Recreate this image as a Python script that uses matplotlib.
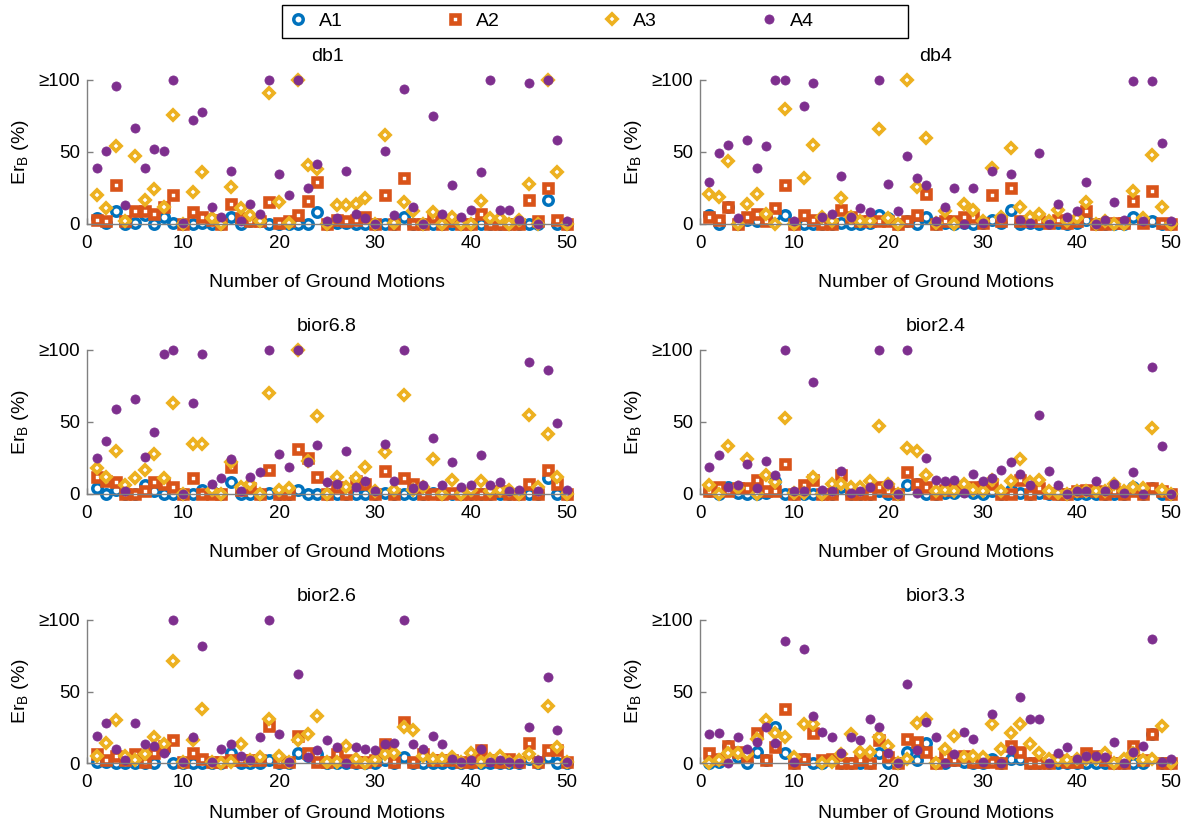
"""
Er_B scatter for six wavelet bases, four cases (A1-A4) over 50 ground motions
"""

import matplotlib

matplotlib.use("Agg")
import matplotlib.pyplot as plt
from matplotlib.lines import Line2D
from matplotlib.patches import Rectangle
import numpy as np

plt.rcParams["font.family"] = ["Liberation Sans", "DejaVu Sans"]
plt.rcParams["mathtext.fontset"] = "custom"
plt.rcParams["mathtext.rm"] = "Liberation Sans"
plt.rcParams["mathtext.it"] = "Liberation Sans:italic"

# ground motion index
motions = np.arange(1, 51)

wavelets = ["db1", "db4", "bior6.8", "bior2.4", "bior2.6", "bior3.3"]
cases = ["A1", "A2", "A3", "A4"]

# Er_B (%) per wavelet and case, values >= 100 shown at 100
db1_a1 = [4, 1, 9, 0, 1, 6, 0, 5, 1, 0, 0, 1, 0, 0, 5, 0, 2, 2, 0, 0, 0, 0, 0, 8, 0,
          1, 1, 0, 0, 0, 0, 0, 5, 0, 0, 0, 0, 0, 0, 0, 0, 0, 0, 0, 0, 0, 0, 17, 0, 0]
db1_a2 = [3, 2, 27, 2, 9, 9, 7, 12, 20, 0, 8, 5, 3, 0, 14, 4, 2, 2, 15, 1, 2, 6, 16, 29, 0,
          3, 2, 3, 5, 0, 20, 0, 32, 0, 0, 5, 0, 2, 0, 0, 7, 0, 0, 0, 0, 17, 2, 25, 3, 0]
db1_a3 = [20, 11, 54, 2, 47, 17, 24, 12, 76, 0, 22, 36, 4, 0, 26, 11, 6, 2, 91, 15, 1, 100, 41, 38, 0,
          13, 13, 14, 18, 0, 62, 1, 15, 9, 0, 8, 0, 5, 0, 0, 16, 4, 4, 0, 3, 28, 0, 100, 36, 0]
db1_a4 = [39, 51, 96, 13, 67, 39, 52, 51, 100, 1, 72, 78, 12, 5, 37, 2, 14, 7, 100, 35, 20, 100, 25, 42, 2,
          4, 37, 7, 4, 0, 51, 6, 94, 12, 0, 75, 7, 27, 5, 10, 36, 100, 10, 10, 3, 98, 0, 100, 58, 2]

db4_a1 = [6, 0, 12, 0, 3, 2, 5, 6, 6, 0, 0, 0, 0, 0, 1, 0, 0, 1, 6, 4, 0, 2, 0, 5, 0,
          1, 0, 1, 0, 1, 3, 1, 10, 0, 1, 0, 1, 1, 0, 1, 3, 0, 0, 0, 0, 5, 2, 2, 0, 0]
db4_a2 = [5, 3, 12, 0, 5, 7, 2, 11, 27, 0, 6, 3, 0, 0, 10, 5, 2, 2, 2, 2, 0, 2, 6, 21, 0,
          2, 2, 5, 5, 1, 20, 2, 25, 2, 2, 2, 1, 3, 1, 2, 9, 0, 0, 1, 1, 16, 1, 23, 1, 0]
db4_a3 = [21, 19, 44, 0, 14, 21, 7, 0, 80, 0, 32, 55, 5, 2, 18, 5, 2, 2, 66, 4, 0, 100, 26, 60, 1,
          9, 0, 14, 10, 2, 39, 5, 53, 12, 5, 7, 2, 10, 2, 4, 15, 0, 2, 0, 0, 23, 4, 48, 12, 0]
db4_a4 = [29, 49, 55, 4, 58, 39, 54, 100, 100, 2, 82, 98, 5, 7, 33, 5, 11, 8, 100, 28, 9, 47, 32, 27, 2,
          12, 25, 0, 25, 1, 37, 4, 35, 3, 1, 49, 0, 14, 5, 9, 29, 0, 3, 15, 3, 99, 2, 99, 56, 2]

bior68_a1 = [4, 0, 3, 0, 0, 6, 2, 0, 0, 0, 0, 3, 2, 0, 8, 0, 0, 0, 1, 0, 0, 3, 0, 0, 0,
             0, 0, 0, 0, 0, 1, 0, 0, 0, 0, 1, 0, 0, 0, 0, 0, 0, 0, 0, 0, 0, 0, 11, 0, 0]
bior68_a2 = [12, 9, 8, 0, 0, 2, 8, 7, 5, 0, 11, 0, 0, 0, 19, 3, 4, 0, 17, 0, 0, 31, 25, 12, 0,
             5, 0, 9, 7, 0, 16, 0, 11, 7, 0, 0, 0, 1, 0, 0, 0, 0, 2, 0, 0, 7, 0, 17, 7, 0]
bior68_a3 = [18, 12, 30, 6, 11, 17, 28, 11, 63, 0, 35, 35, 3, 0, 22, 5, 7, 0, 70, 3, 4, 100, 23, 54, 0,
             12, 5, 11, 19, 2, 29, 3, 69, 3, 5, 24, 0, 10, 0, 3, 9, 2, 3, 3, 0, 55, 5, 42, 12, 0]
bior68_a4 = [25, 37, 59, 2, 66, 26, 43, 97, 100, 0, 63, 97, 7, 11, 24, 2, 12, 15, 100, 28, 19, 100, 22, 34, 8,
             7, 30, 5, 9, 2, 35, 9, 100, 4, 6, 39, 6, 22, 5, 6, 27, 6, 8, 2, 3, 92, 2, 86, 49, 3]

bior24_a1 = [2, 0, 5, 1, 0, 0, 1, 9, 0, 0, 0, 0, 0, 0, 5, 0, 0, 0, 2, 0, 0, 6, 7, 0, 0,
             1, 1, 2, 1, 0, 2, 0, 3, 1, 0, 1, 0, 0, 0, 0, 0, 0, 0, 0, 0, 5, 0, 4, 0, 0]
bior24_a2 = [2, 5, 2, 4, 4, 10, 2, 2, 21, 0, 6, 10, 0, 0, 13, 0, 0, 0, 5, 2, 0, 15, 7, 5, 0,
             3, 5, 4, 5, 5, 7, 0, 0, 10, 0, 4, 1, 0, 0, 2, 3, 2, 0, 2, 0, 2, 0, 4, 2, 0]
bior24_a3 = [6, 0, 33, 4, 24, 0, 13, 8, 53, 1, 1, 12, 0, 7, 7, 5, 5, 9, 47, 7, 0, 32, 30, 13, 2,
             3, 2, 7, 3, 2, 10, 2, 9, 24, 8, 10, 2, 1, 0, 2, 2, 2, 2, 7, 2, 5, 4, 46, 3, 0]
bior24_a4 = [19, 27, 5, 6, 21, 4, 23, 13, 100, 2, 2, 78, 3, 2, 16, 1, 2, 5, 100, 7, 0, 100, 1, 25, 10,
             9, 10, 1, 14, 9, 11, 17, 22, 14, 6, 55, 16, 6, 0, 2, 2, 9, 2, 7, 1, 15, 0, 88, 33, 0]

bior26_a1 = [1, 1, 0, 0, 0, 0, 0, 9, 0, 0, 0, 0, 0, 0, 7, 0, 0, 0, 2, 0, 0, 7, 5, 6, 0,
             0, 0, 0, 0, 0, 2, 0, 4, 0, 0, 0, 0, 0, 0, 0, 0, 0, 0, 0, 0, 3, 0, 4, 0, 0]
bior26_a2 = [6, 2, 5, 2, 6, 1, 7, 12, 16, 1, 7, 3, 1, 1, 2, 2, 2, 2, 26, 1, 1, 19, 7, 1, 1,
             6, 2, 1, 1, 2, 13, 1, 29, 1, 6, 2, 2, 2, 1, 1, 9, 2, 1, 3, 1, 14, 1, 9, 9, 1]
bior26_a3 = [5, 14, 30, 5, 2, 6, 18, 13, 71, 1, 16, 38, 1, 0, 1, 13, 2, 4, 31, 5, 1, 16, 20, 33, 1,
             1, 12, 3, 0, 2, 6, 7, 25, 23, 5, 3, 3, 4, 1, 7, 1, 3, 5, 1, 2, 6, 1, 40, 11, 1]
bior26_a4 = [19, 28, 10, 2, 28, 13, 12, 7, 100, 1, 18, 82, 1, 10, 13, 5, 2, 18, 100, 20, 1, 62, 4, 9, 16,
             11, 0, 11, 10, 9, 13, 14, 100, 13, 10, 19, 13, 3, 1, 2, 10, 1, 2, 1, 0, 25, 2, 60, 23, 1]

bior33_a1 = [0, 1, 12, 4, 0, 8, 2, 25, 7, 0, 3, 0, 0, 2, 0, 0, 0, 0, 7, 0, 0, 8, 2, 14, 0,
             0, 2, 1, 0, 0, 3, 0, 3, 3, 0, 0, 0, 0, 0, 0, 0, 0, 0, 0, 0, 0, 0, 20, 0, 0]
bior33_a2 = [7, 3, 12, 8, 5, 21, 2, 11, 38, 0, 3, 21, 2, 3, 0, 0, 2, 0, 16, 4, 0, 17, 15, 8, 0,
             5, 2, 5, 1, 1, 1, 0, 12, 8, 0, 0, 0, 2, 1, 1, 7, 5, 2, 0, 0, 12, 2, 20, 0, 0]
bior33_a3 = [0, 2, 7, 7, 6, 17, 30, 21, 18, 4, 27, 27, 0, 1, 6, 20, 8, 8, 18, 12, 0, 3, 28, 31, 0,
             10, 19, 4, 5, 4, 27, 10, 21, 27, 13, 7, 3, 2, 2, 3, 3, 3, 7, 0, 3, 7, 2, 3, 26, 0]
bior33_a4 = [20, 21, 0, 18, 10, 15, 25, 14, 85, 1, 80, 33, 22, 18, 7, 18, 16, 31, 25, 7, 0, 55, 9, 29, 18,
             0, 6, 22, 17, 1, 34, 0, 9, 46, 31, 31, 0, 7, 11, 3, 5, 5, 4, 15, 0, 8, 12, 87, 1, 3]

results = {
    "db1": [db1_a1, db1_a2, db1_a3, db1_a4],
    "db4": [db4_a1, db4_a2, db4_a3, db4_a4],
    "bior6.8": [bior68_a1, bior68_a2, bior68_a3, bior68_a4],
    "bior2.4": [bior24_a1, bior24_a2, bior24_a3, bior24_a4],
    "bior2.6": [bior26_a1, bior26_a2, bior26_a3, bior26_a4],
    "bior3.3": [bior33_a1, bior33_a2, bior33_a3, bior33_a4],
}

# marker style per case: (marker, color, face, size, edge width)
styles = [
    ("o", "#0072BD", "white", 6.8, 2.5),
    ("s", "#D95319", "white", 5.2, 3.3),
    ("D", "#EDB120", "white", 4.6, 2.7),
    ("o", "#7E2F8E", "#7E2F8E", 6.6, 0.5),
]

FS = 14
W, H = 1189, 825


def axes_rect(col, row):
    """Axes position in figure fractions from pixel layout"""
    lefts = [87, 700]
    rights = [567, 1171]
    tops = [80, 350, 620]
    bottoms = [224, 494, 763]
    l, r = lefts[col], rights[col]
    t, b = tops[row], bottoms[row]
    return [l / W, 1 - b / H, (r - l) / W, (b - t) / H]


def draw_panel(ax, name, xpad):
    for vals, (mk, col, face, ms, mew) in zip(results[name], styles):
        ax.plot(motions, vals, linestyle="none", marker=mk, color=col,
                markerfacecolor=face, markeredgecolor=col, markersize=ms,
                markeredgewidth=mew, clip_on=False)

    ax.set_xlim(0, 50)
    ax.set_ylim(0, 100)
    ax.set_xticks([0, 10, 20, 30, 40, 50])
    ax.set_yticks([0, 50, 100])
    ax.set_yticklabels(["0", "50", "≥100"])
    ax.tick_params(direction="in", length=4, width=1, color="#808080",
                   labelsize=13.5, labelcolor="black", pad=5)
    ax.tick_params(axis="x", pad=8)

    for side in ["top", "right"]:
        ax.spines[side].set_visible(False)
    for side in ["left", "bottom"]:
        ax.spines[side].set_color("#808080")
        ax.spines[side].set_linewidth(1.0)

    ax.set_title(name, fontsize=FS, pad=14)
    ax.set_xlabel("Number of Ground Motions", fontsize=FS, labelpad=xpad)
    ax.set_ylabel(r"Er$_\mathrm{B}$ (%)", fontsize=FS, labelpad=5)


def main():
    fig = plt.figure(figsize=(W / 100, H / 100), dpi=100)

    for idx, name in enumerate(wavelets):
        row = idx // 2
        ax = fig.add_axes(axes_rect(idx % 2, row))
        draw_panel(ax, name, 15.5 if row < 2 else 10.0)

    # shared legend along the top
    handles = [
        Line2D([], [], linestyle="none", marker=mk, color=col, markerfacecolor=face,
               markeredgecolor=col, markersize=ms, markeredgewidth=mew)
        for mk, col, face, ms, mew in styles
    ]
    fig.legend(handles, cases, loc="center left", ncol=4, frameon=False, fontsize=FS,
               bbox_to_anchor=(288 / W, 1 - 21.5 / H), borderpad=0, borderaxespad=0,
               handlelength=1.0, handletextpad=0.6, columnspacing=5.25)
    fig.patches.append(Rectangle((282 / W, 1 - 38 / H), 626 / W, 33 / H, transform=fig.transFigure,
                                 fill=False, edgecolor="black", linewidth=1.0))

    fig.savefig("out.png", dpi=100)
    plt.close(fig)


if __name__ == "__main__":
    main()
